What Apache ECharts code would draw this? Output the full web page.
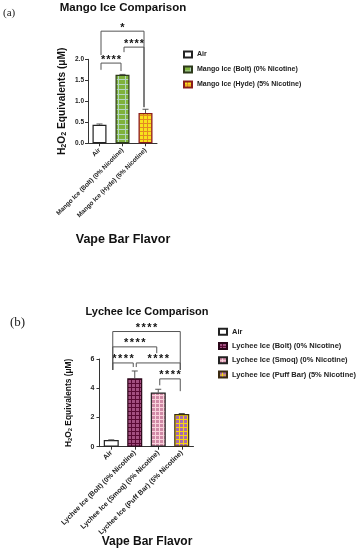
<!DOCTYPE html>
<html><head><meta charset="utf-8">
<script src="https://cdn.jsdelivr.net/npm/echarts@6/dist/echarts.min.js"></script>
<style>html,body{margin:0;padding:0;background:#fff}#c{width:364px;height:550px}</style>
</head><body><div id="c"></div><script>
// ---------- data ----------
const mangoCats = ['Air', 'Mango Ice (Bolt) (0% Nicotine)', 'Mango Ice (Hyde) (5% Nicotine)'];
const mangoVals = [0.44, 1.63, 0.72];
const mangoErr = [0.02, 0.01, 0.09];
const mangoTicks = [0, 0.5, 1.0, 1.5, 2.0];
const mangoPairs = [[0, 1], [1, 2], [0, 2]];
const mangoLevels = [1.91, 2.29, 2.67];
const mangoLegs = [[1.75, 1.72], [2.17, 0.86], [2.1, 0.86]];
const mangoStars = ['****', '****', '*'];

const lycheeCats = ['Air', 'Lychee Ice (Bolt) (0% Nicotine)', 'Lychee Ice (Smoq) (0% Nicotine)', 'Lychee Ice (Puff Bar) (5% Nicotine)'];
const lycheeVals = [0.45, 4.68, 3.70, 2.24];
const lycheeErr = [0.02, 0.50, 0.23, 0.03];
const lycheeTicks = [0, 2, 4, 6];
const lycheePairs = [[0, 1], [1, 3], [0, 2], [0, 3], [2, 3]];
const lycheeLevels = [5.73, 5.73, 6.83, 7.88, 4.64];
const lycheeLegs = [[5.25, 5.45], [5.45, 5.25], [5.25, 6.4], [5.25, 5.25], [4.2, 3.8]];
const lycheeStars = ['****', '****', '****', '****', '****'];

// ---------- styles ----------
function pattern(bg, fg, cw, ch, gx, gy) {
  const c = document.createElement('canvas');
  c.width = cw + gx; c.height = ch + gy;
  const g = c.getContext('2d');
  g.fillStyle = bg; g.fillRect(0, 0, c.width, c.height);
  g.fillStyle = fg; g.fillRect(0, 0, cw, ch);
  return { image: c, repeat: 'repeat' };
}
const mangoFills = ['#ffffff', pattern('#b4d6c0', '#7fb23c', 6, 4, 1, 1), pattern('#e48a22', '#f8e21c', 3, 3, 1, 1)];
const mangoBorders = ['#222222', '#2d3a1a', '#8a1c1c'];
const lycheeFills = ['#ffffff', pattern('#5a0a34', '#a24f80', 3, 3, 1.5, 1.5), pattern('#f9d3dc', '#d08aa6', 3, 3, 1.5, 1.5), pattern('#f6d512', '#a86aac', 3, 3, 1.5, 1.5)];
const lycheeBorders = ['#222222', '#2a0618', '#222222', '#3a2a10'];

const FONT = 'Liberation Sans, Arial, sans-serif';

function barSeries(cats, vals, fills, borders, ax, bw) {
  return cats.map((name, i) => ({
    type: 'bar', name, xAxisIndex: ax, yAxisIndex: ax,
    data: vals.map((v, j) => (j === i ? v : '-')),
    barWidth: bw, barGap: '-100%',
    itemStyle: { color: fills[i], borderColor: borders[i], borderWidth: 1.2 },
    z: 2
  }));
}
function errSeries(vals, errs, ax) {
  return {
    type: 'custom', xAxisIndex: ax, yAxisIndex: ax, z: 3, silent: true,
    encode: { x: 0, y: [1, 2] },
    data: vals.map((v, i) => [i, v, v + errs[i]]),
    renderItem(params, api) {
      const a = api.coord([api.value(0), api.value(1)]);
      const b = api.coord([api.value(0), api.value(2)]);
      const st = { stroke: '#555', lineWidth: 1 };
      return { type: 'group', children: [
        { type: 'line', shape: { x1: a[0], y1: a[1], x2: b[0], y2: b[1] }, style: st },
        { type: 'line', shape: { x1: b[0] - 3, y1: b[1], x2: b[0] + 3, y2: b[1] }, style: st }
      ] };
    }
  };
}
function sigSeries(pairs, levels, legs, stars, ax, fs, step, lift) {
  return {
    type: 'custom', xAxisIndex: ax, yAxisIndex: ax, z: 4, silent: true, clip: false,
    encode: { x: [0, 1], y: [2, 3, 4] },
    data: pairs.map((p, i) => [p[0], p[1], levels[i], legs[i][0], legs[i][1]]),
    renderItem(params, api) {
      const x1 = api.value(0), x2 = api.value(1), lv = api.value(2);
      const p1 = api.coord([x1, lv]), p2 = api.coord([x2, lv]);
      const b1 = api.coord([x1, api.value(3)]), b2 = api.coord([x2, api.value(4)]);
      const L = p1[0] + 1.5, R = p2[0] - 1.5;
      const s = stars[params.dataIndex];
      const kids = [
        { type: 'polyline', shape: { points: [[L, b1[1]], [L, p1[1]], [R, p2[1]], [R, b2[1]]] },
          style: { stroke: '#555', lineWidth: 1, fill: null } }
      ];
      const cx = (L + R) / 2;
      for (let k = 0; k < s.length; k++) {
        kids.push({ type: 'text', x: cx + (k - (s.length - 1) / 2) * step, y: p1[1] - lift,
          style: { text: s[k], textAlign: 'center', textVerticalAlign: 'middle',
                   font: 'bold ' + fs + 'px ' + FONT, fill: '#111' } });
      }
      return { type: 'group', children: kids };
    }
  };
}
function yName(fs) {
  return {
    name: '{a|H}{s|2}{a|O}{s|2}{a| Equivalents (μM)}',
    nameTextStyle: { rich: {
      a: { fontSize: fs, fontWeight: 'bold', fontFamily: FONT, color: '#111' },
      s: { fontSize: fs * 0.7, fontWeight: 'bold', fontFamily: FONT, color: '#111', padding: [fs * 0.45, 0, 0, 0] }
    } }
  };
}
const axLine = { show: true, lineStyle: { color: '#333', width: 1 } };
function lbl(fs, extra) { return Object.assign({ fontSize: fs, fontWeight: 'bold', color: '#222', fontFamily: FONT }, extra); }

const chart = echarts.init(document.getElementById('c'));
chart.setOption({
  animation: false,
  backgroundColor: '#fff',
  grid: [
    { left: 88, width: 69, top: 59.3, height: 84 },
    { left: 99.5, width: 94, top: 359, height: 87.7 }
  ],
  xAxis: [
    { type: 'category', gridIndex: 0, data: mangoCats, axisLine: axLine, axisTick: { show: true, alignWithLabel: true, length: 3, lineStyle: { color: '#333' } },
      axisLabel: lbl(6.4, { rotate: 45, interval: 0, margin: 6 }) },
    { type: 'category', gridIndex: 1, data: lycheeCats, axisLine: axLine, axisTick: { show: true, alignWithLabel: true, length: 3, lineStyle: { color: '#333' } },
      axisLabel: lbl(7, { rotate: 45, interval: 0, margin: 5 }) }
  ],
  yAxis: [
    Object.assign({ type: 'value', gridIndex: 0, min: mangoTicks[0], max: mangoTicks[mangoTicks.length - 1], interval: mangoTicks[1] - mangoTicks[0],
      nameLocation: 'middle', nameRotate: 90, nameGap: 20,
      axisLine: axLine, axisTick: { show: true, length: 3, lineStyle: { color: '#333' } }, splitLine: { show: false },
      axisLabel: lbl(6.5, { margin: 4, formatter: v => v.toFixed(1) }) }, yName(10.2)),
    Object.assign({ type: 'value', gridIndex: 1, min: lycheeTicks[0], max: lycheeTicks[lycheeTicks.length - 1], interval: lycheeTicks[1] - lycheeTicks[0],
      nameLocation: 'middle', nameRotate: 90, nameGap: 26,
      axisLine: axLine, axisTick: { show: true, length: 3, lineStyle: { color: '#333' } }, splitLine: { show: false },
      axisLabel: lbl(7, { margin: 5 }) }, yName(8.4))
  ],
  legend: [
    { data: mangoCats, orient: 'vertical', left: 178, top: 45, itemWidth: 8, itemHeight: 6, itemGap: 6,
      icon: 'rect', textStyle: lbl(7, { lineHeight: 9 }) },
    { data: lycheeCats, orient: 'vertical', left: 213, top: 322, itemWidth: 8, itemHeight: 6, itemGap: 5,
      icon: 'rect', textStyle: lbl(7.5, { lineHeight: 9.3 }) }
  ],
  graphic: [
    { type: 'text', x: 3, y: 13, style: { text: '(a)', font: '11px Liberation Serif, serif', fill: '#222', textVerticalAlign: 'middle' } },
    { type: 'text', x: 123, y: 8, style: { text: 'Mango Ice Comparison', font: 'bold 11.5px ' + FONT, fill: '#111', textAlign: 'center', textVerticalAlign: 'middle' } },
    { type: 'text', x: 123, y: 240, style: { text: 'Vape Bar Flavor', font: 'bold 12.5px ' + FONT, fill: '#111', textAlign: 'center', textVerticalAlign: 'middle' } },
    { type: 'text', x: 10, y: 323, style: { text: '(b)', font: '13px Liberation Serif, serif', fill: '#222', textVerticalAlign: 'middle' } },
    { type: 'text', x: 147, y: 312, style: { text: 'Lychee Ice Comparison', font: 'bold 11px ' + FONT, fill: '#111', textAlign: 'center', textVerticalAlign: 'middle' } },
    { type: 'text', x: 147, y: 542, style: { text: 'Vape Bar Flavor', font: 'bold 12px ' + FONT, fill: '#111', textAlign: 'center', textVerticalAlign: 'middle' } }
  ],
  series: [].concat(
    barSeries(mangoCats, mangoVals, mangoFills, mangoBorders, 0, 14),
    [errSeries(mangoVals, mangoErr, 0), sigSeries(mangoPairs, mangoLevels, mangoLegs, mangoStars, 0, 11, 5.3, 3)],
    barSeries(lycheeCats, lycheeVals, lycheeFills, lycheeBorders, 1, 15),
    [errSeries(lycheeVals, lycheeErr, 1), sigSeries(lycheePairs, lycheeLevels, lycheeLegs, lycheeStars, 1, 11, 5.7, 3.5)]
  )
});
</script></body></html>
